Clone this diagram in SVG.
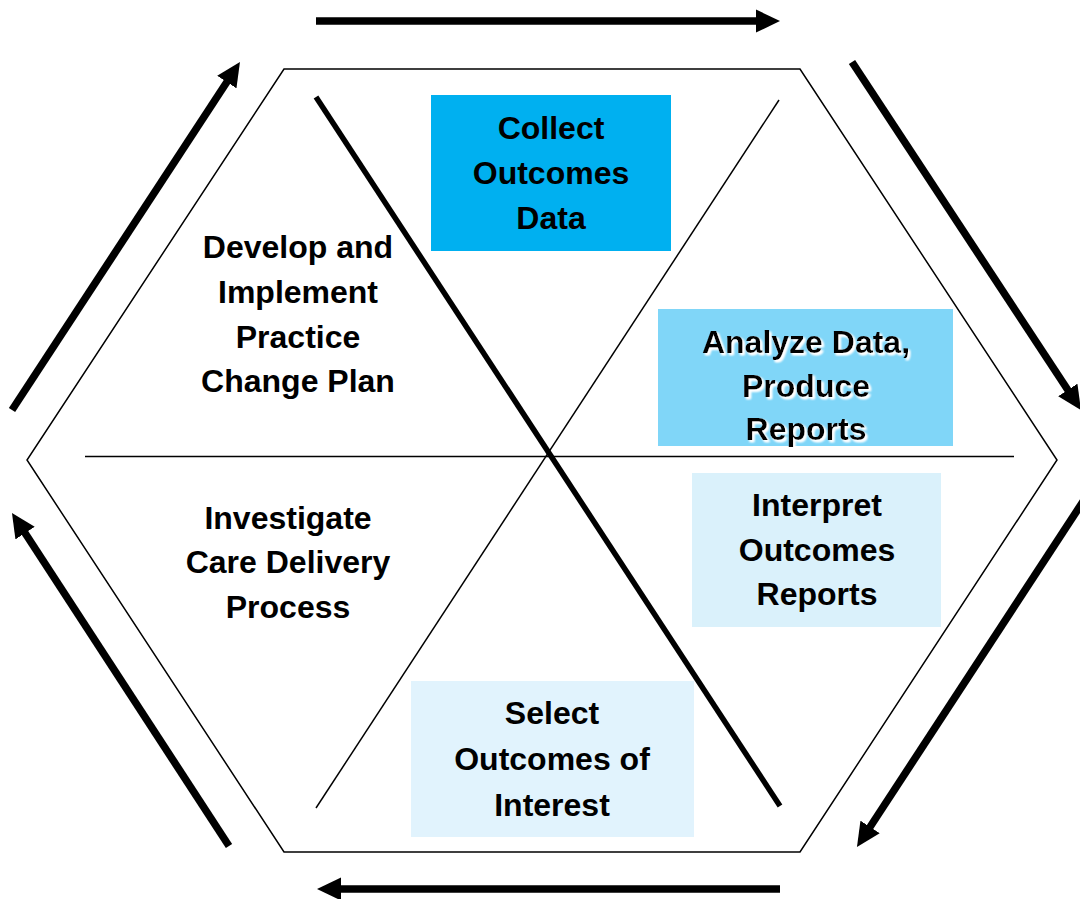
<svg xmlns="http://www.w3.org/2000/svg" width="1080" height="899" viewBox="0 0 1080 899">
<style>
  .lbl { font-family: "Liberation Sans", Arial, sans-serif; font-weight: bold; font-size: 32px; fill: #000; text-anchor: middle; }
  .thin { stroke: #000; stroke-width: 1.5; fill: none; }
  .arrow { stroke: #000; stroke-width: 7.5; fill: none; marker-end: url(#head); }
</style>
<defs>
  <marker id="head" markerUnits="userSpaceOnUse" markerWidth="24" markerHeight="24" viewBox="0 0 24 24" refX="4" refY="12" orient="auto">
    <path d="M0,0.5 L24,12 L0,23.5 z" fill="#000"/>
  </marker>
  <filter id="glow" x="-10%" y="-20%" width="120%" height="140%">
    <feGaussianBlur in="SourceAlpha" stdDeviation="1.2" result="b"/>
    <feOffset in="b" dx="1.5" dy="1.5" result="o"/>
    <feFlood flood-color="#fff"/>
    <feComposite in2="o" operator="in" result="w"/>
    <feMerge><feMergeNode in="w"/><feMergeNode in="w"/><feMergeNode in="SourceGraphic"/></feMerge>
  </filter>
</defs>
<rect width="1080" height="899" fill="#fff"/>

<g id="hexagon">
  <polygon class="thin" points="284,69 800,69 1057,460 800,852 284,852 27,460"/>
  <line class="thin" x1="85" y1="456.5" x2="1014" y2="456.5"/>
  <line class="thin" x1="779" y1="100" x2="316" y2="808"/>
  <line x1="316" y1="97" x2="780" y2="806" stroke="#000" stroke-width="5.5"/>
</g>

<g id="connectors">
  <line class="arrow" x1="316" y1="21" x2="760" y2="21"/>
  <line class="arrow" x1="852" y1="62" x2="1070" y2="393.3"/>
  <line class="arrow" x1="1084" y1="500" x2="867.9" y2="830.3"/>
  <line class="arrow" x1="780" y1="889" x2="337" y2="889"/>
  <line class="arrow" x1="229" y1="846" x2="22.9" y2="529.8"/>
  <line class="arrow" x1="12" y1="410" x2="229" y2="78.7"/>
</g>

<g id="collect">
  <rect x="431" y="95" width="240" height="156" fill="#00B0F0"/>
  <text class="lbl" x="551" y="139">Collect</text>
  <text class="lbl" x="551" y="184">Outcomes</text>
  <text class="lbl" x="551" y="229">Data</text>
</g>

<g id="analyze">
  <rect x="658" y="309" width="295" height="137" fill="#80D6F8"/>
  <g filter="url(#glow)">
    <text class="lbl" x="806" y="353">Analyze Data,</text>
    <text class="lbl" x="806" y="397">Produce</text>
    <text class="lbl" x="806" y="440">Reports</text>
  </g>
</g>

<g id="interpret">
  <rect x="692" y="473" width="249" height="154" fill="#DAF1FB"/>
  <text class="lbl" x="817" y="516">Interpret</text>
  <text class="lbl" x="817" y="561">Outcomes</text>
  <text class="lbl" x="817" y="605">Reports</text>
</g>

<g id="select">
  <rect x="411" y="681" width="283" height="156" fill="#E1F3FD"/>
  <text class="lbl" x="552" y="724">Select</text>
  <text class="lbl" x="552" y="770">Outcomes of</text>
  <text class="lbl" x="552" y="816">Interest</text>
</g>

<g id="investigate">
  <text class="lbl" x="288" y="529">Investigate</text>
  <text class="lbl" x="288" y="573">Care Delivery</text>
  <text class="lbl" x="288" y="618">Process</text>
</g>

<g id="develop">
  <text class="lbl" x="298" y="258">Develop and</text>
  <text class="lbl" x="298" y="303">Implement</text>
  <text class="lbl" x="298" y="348">Practice</text>
  <text class="lbl" x="298" y="392">Change Plan</text>
</g>
</svg>
